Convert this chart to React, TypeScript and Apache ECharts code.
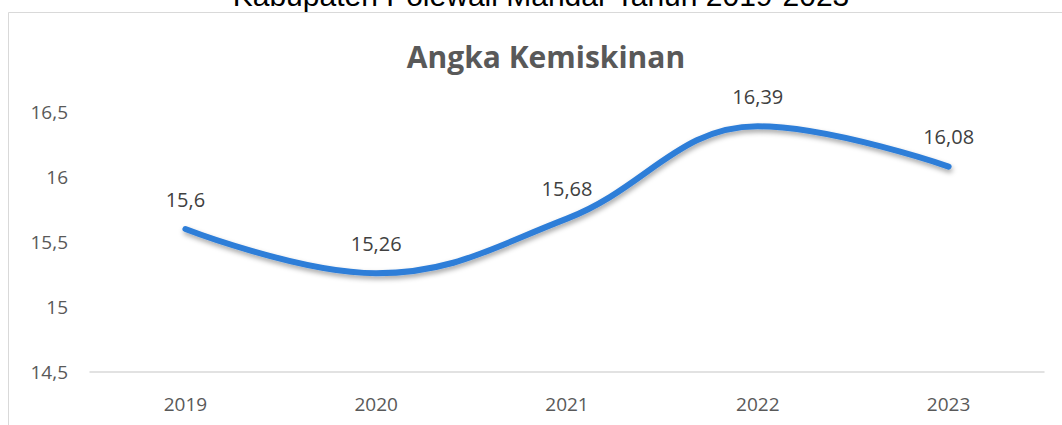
import React, { useEffect, useRef } from "react";
import * as echarts from "echarts";

const years = ["2019", "2020", "2021", "2022", "2023"];
const poverty = [15.6, 15.26, 15.68, 16.39, 16.08];
const yTicks = [14.5, 15, 15.5, 16, 16.5];

const fmt = (v: number) => String(v).replace(".", ",");

export default function App() {
  const ref = useRef<HTMLDivElement>(null);
  useEffect(() => {
    const chart = echarts.init(ref.current!, null, { renderer: "svg" });
    chart.setOption({
      animation: false,
      backgroundColor: "#ffffff",
      graphic: [
        {
          type: "rect",
          shape: { x: 8.5, y: 12.5, width: 1100, height: 500 },
          style: { fill: "none", stroke: "#d9d9d9", lineWidth: 1 },
        },
        {
          type: "text",
          x: 541,
          y: 10,
          style: {
            text: "Kabupaten Polewali Mandar Tahun 2019-2023",
            font: "30px 'Liberation Sans', Arial, sans-serif",
            fill: "#000000",
            textAlign: "center",
            textVerticalAlign: "bottom",
          },
        },
      ],
      title: {
        text: "Angka Kemiskinan",
        left: 541,
        top: 36,
        textAlign: "center",
        textStyle: {
          fontFamily: "'Open Sans', sans-serif",
          fontWeight: "bold",
          fontSize: 30,
          color: "#595959",
        },
      },
      grid: { left: 90, right: 18, top: 112, bottom: 53 },
      xAxis: {
        type: "category",
        data: years,
        boundaryGap: true,
        axisLine: { lineStyle: { color: "#d9d9d9", width: 1.5 } },
        axisTick: { show: false },
        axisLabel: {
          color: "#595959",
          fontFamily: "'Open Sans', sans-serif",
          fontSize: 19,
          margin: 22,
        },
      },
      yAxis: {
        type: "value",
        min: yTicks[0],
        max: yTicks[yTicks.length - 1],
        interval: 0.5,
        splitLine: { show: false },
        axisLine: { show: false },
        axisTick: { show: false },
        axisLabel: {
          color: "#595959",
          fontFamily: "'Open Sans', sans-serif",
          fontSize: 19,
          margin: 22,
          formatter: (v: number) => fmt(v),
        },
      },
      series: [
        {
          type: "line",
          data: poverty,
          smooth: 0.4,
          symbol: "circle",
          symbolSize: 2,
          showSymbol: true,
          itemStyle: { color: "#2f7ed8" },
          lineStyle: {
            color: "#2f7ed8",
            width: 6,
            cap: "round",
            shadowColor: "rgba(0,0,0,0.35)",
            shadowBlur: 5,
            shadowOffsetY: 3,
            shadowOffsetX: 1,
          },
          label: {
            show: true,
            position: "top",
            distance: 19,
            color: "#404040",
            fontFamily: "'Open Sans', sans-serif",
            fontSize: 20,
            formatter: (p: any) => fmt(p.value),
          },
        },
      ],
    });
    return () => chart.dispose();
  }, []);
  return (
    <div
      ref={ref}
      style={{ position: "absolute", left: 0, top: 0, width: 1062, height: 425 }}
    />
  );
}
